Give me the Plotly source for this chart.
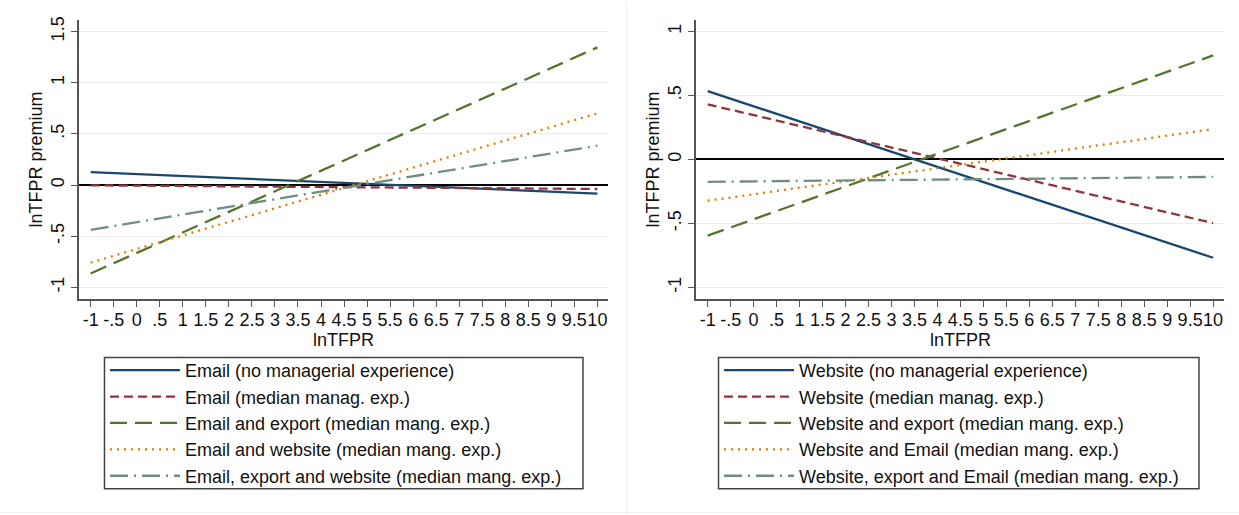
import plotly.graph_objects as go

# x endpoints of the fitted (linear) predictions
x_vals = [-1, 10]

# Left panel: Email
left_names = [
    "Email (no managerial experience)",
    "Email (median manag. exp.)",
    "Email and export (median mang. exp.)",
    "Email and website (median mang. exp.)",
    "Email, export and website (median mang. exp.)",
]
left_no_exp = [0.126, -0.084]
left_median = [-0.003, -0.039]
left_export = [-0.865, 1.345]
left_website = [-0.758, 0.70]
left_export_website = [-0.439, 0.384]

# Right panel: Website
right_names = [
    "Website (no managerial experience)",
    "Website (median manag. exp.)",
    "Website and export (median mang. exp.)",
    "Website and Email (median mang. exp.)",
    "Website, export and Email (median mang. exp.)",
]
right_no_exp = [0.534, -0.769]
right_median = [0.431, -0.498]
right_export = [-0.596, 0.813]
right_email = [-0.323, 0.237]
right_export_email = [-0.175, -0.137]

x_tickvals = [-1 + 0.5 * i for i in range(23)]
x_ticktext = ["-1", "-.5", "0", ".5", "1", "1.5", "2", "2.5", "3", "3.5", "4", "4.5",
              "5", "5.5", "6", "6.5", "7", "7.5", "8", "8.5", "9", "9.5", "10"]
left_ytickvals = [-1, -0.5, 0, 0.5, 1, 1.5]
left_yticktext = ["-1", "-.5", "0", ".5", "1", "1.5"]
right_ytickvals = [-1, -0.5, 0, 0.5, 1]
right_yticktext = ["-1", "-.5", "0", ".5", "1"]
x_title = "lnTFPR"
y_title = "lnTFPR premium"

colors = ["#1a476f", "#90353b", "#55752f", "#e37e00", "#6e8e84"]
dashes = ["solid", "9px,5px", "17px,8px", "2px,5px", "18px,6px,2px,6px"]

W, H = 1239, 515
FONT = "Liberation Sans, Arial, sans-serif"
TXT = "#111111"

fig = go.Figure()

left_series = [left_no_exp, left_median, left_export, left_website, left_export_website]
right_series = [right_no_exp, right_median, right_export, right_email, right_export_email]

for name, ys, c, d in zip(left_names, left_series, colors, dashes):
    fig.add_trace(go.Scatter(x=x_vals, y=ys, mode="lines", name=name,
                             line=dict(color=c, width=2.3, dash=d),
                             xaxis="x", yaxis="y", legend="legend"))
for name, ys, c, d in zip(right_names, right_series, colors, dashes):
    fig.add_trace(go.Scatter(x=x_vals, y=ys, mode="lines", name=name,
                             line=dict(color=c, width=2.3, dash=d),
                             xaxis="x2", yaxis="y2", legend="legend2"))

axis_common = dict(
    showline=True, linecolor="#555555", linewidth=1.5,
    ticks="outside", ticklen=6.5, tickwidth=1.3, tickcolor="#555555",
    tickfont=dict(size=18, color=TXT, family=FONT),
    mirror=False,
)

xaxis_common = dict(
    axis_common,
    range=[-1.254, 10.237],
    tickmode="array", tickvals=x_tickvals, ticktext=x_ticktext,
    showgrid=False, zeroline=False, tickangle=0,
    ticklabelstandoff=-3,
)

yaxis_common = dict(
    axis_common,
    tickmode="array", tickangle=-90,
    showgrid=True, gridcolor="#e6eef0", gridwidth=1,
    zeroline=True, zerolinecolor="#000000", zerolinewidth=1.5,
    title=dict(text=y_title, font=dict(size=18, color=TXT, family=FONT), standoff=0),
)

legend_common = dict(
    xanchor="left", yanchor="top",
    borderwidth=0, bgcolor="rgba(0,0,0,0)",
    font=dict(size=18, color=TXT, family=FONT), itemwidth=70,
    tracegroupgap=0,
)

left_dom = [79 / W, 608.3 / W]
right_dom = [696 / W, 1224 / W]

fig.update_layout(
    width=W, height=H,
    margin=dict(l=0, r=0, t=0, b=0),
    paper_bgcolor="white", plot_bgcolor="white",
    font=dict(family=FONT, size=18, color=TXT),
    xaxis=dict(xaxis_common, domain=left_dom, anchor="y"),
    yaxis=dict(yaxis_common, domain=[1 - 297.7 / H, 1 - 17 / H], anchor="x",
               range=[-1.114, 1.614], tickvals=left_ytickvals, ticktext=left_yticktext),
    xaxis2=dict(xaxis_common, domain=right_dom, anchor="y2"),
    yaxis2=dict(yaxis_common, domain=[1 - 297.7 / H, 1 - 17 / H], anchor="x2",
                range=[-1.091, 1.091], tickvals=right_ytickvals, ticktext=right_yticktext),
    legend=dict(legend_common, x=105 / W, y=1 - 351 / H),
    legend2=dict(legend_common, x=719 / W, y=1 - 351 / H),
    annotations=[
        dict(text=x_title, xref="paper", yref="paper", x=sum(left_dom) / 2, y=1 - 338.5 / H,
             xanchor="center", yanchor="middle", showarrow=False,
             font=dict(size=18, color=TXT, family=FONT)),
        dict(text=x_title, xref="paper", yref="paper", x=sum(right_dom) / 2, y=1 - 338.5 / H,
             xanchor="center", yanchor="middle", showarrow=False,
             font=dict(size=18, color=TXT, family=FONT)),
    ],
    shapes=[
        # legend frames
        dict(type="rect", xref="paper", yref="paper", layer="below",
             x0=104.5 / W, x1=583 / W, y0=1 - 488.5 / H, y1=1 - 356.5 / H,
             line=dict(color="#444444", width=1.5), fillcolor="white"),
        dict(type="rect", xref="paper", yref="paper", layer="below",
             x0=718.5 / W, x1=1199 / W, y0=1 - 488.5 / H, y1=1 - 356.5 / H,
             line=dict(color="#444444", width=1.5), fillcolor="white"),
        # faint panel borders
        dict(type="line", xref="paper", yref="paper", x0=626.5 / W, x1=626.5 / W, y0=0, y1=1,
             line=dict(color="#efefef", width=1)),
        dict(type="line", xref="paper", yref="paper", x0=0, x1=1, y0=1 - 512.5 / H, y1=1 - 512.5 / H,
             line=dict(color="#efefef", width=1)),
    ],
)

fig.write_html("out.html", config={"displayModeBar": False},
               post_script="document.body.style.margin='0';document.body.style.padding='0';")
